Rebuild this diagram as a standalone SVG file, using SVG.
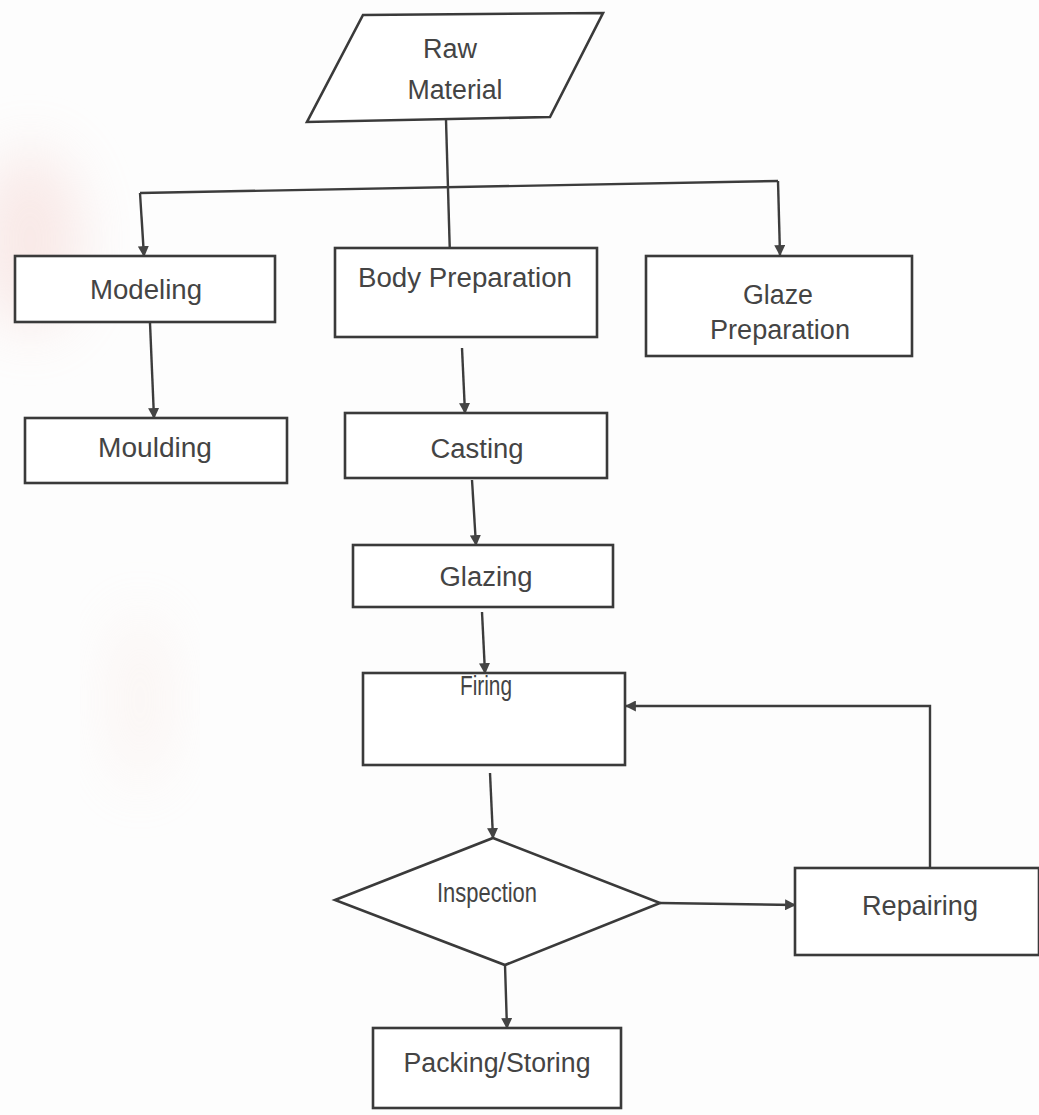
<svg xmlns="http://www.w3.org/2000/svg" width="1039" height="1115" viewBox="0 0 1039 1115">
<defs>
<marker id="arr" viewBox="0 0 10 10" refX="9" refY="5" markerWidth="11" markerHeight="11" markerUnits="userSpaceOnUse" orient="auto">
<path d="M0,0 L10,5 L0,10 z" fill="#444"/>
</marker>
<filter id="blur" x="-50%" y="-50%" width="200%" height="200%"><feGaussianBlur stdDeviation="30"/></filter>
</defs>
<style>
.shape{fill:#fff;stroke:#3a3a3a;stroke-width:2.6}
.lbl{font-family:"Liberation Sans",Arial,sans-serif;font-size:27px;fill:#444;text-anchor:middle}
.conn{fill:none;stroke:#3c3c3c;stroke-width:2.4}
</style>
<rect width="1039" height="1115" fill="#fdfdfd"/>
<ellipse cx="30" cy="240" rx="50" ry="90" fill="#f2c9c4" opacity="0.4" filter="url(#blur)"/>
<ellipse cx="140" cy="700" rx="30" ry="90" fill="#f4dcd4" opacity="0.25" filter="url(#blur)"/>

<g id="connectors">
<path class="conn" d="M446,120 L450,257" marker-end="url(#arr)"/>
<path class="conn" d="M140,193 L778,181"/>
<path class="conn" d="M140,193 L144,256" marker-end="url(#arr)"/>
<path class="conn" d="M778,181 L780,255" marker-end="url(#arr)"/>
<path class="conn" d="M150,323 L154,418" marker-end="url(#arr)"/>
<path class="conn" d="M462,348 L465,413" marker-end="url(#arr)"/>
<path class="conn" d="M472,480 L476,545" marker-end="url(#arr)"/>
<path class="conn" d="M482,612 L485,673" marker-end="url(#arr)"/>
<path class="conn" d="M490,773 L493,838" marker-end="url(#arr)"/>
<path class="conn" d="M660,903 L795,905" marker-end="url(#arr)"/>
<path class="conn" d="M930,868 L930,706 L626,706" marker-end="url(#arr)"/>
<path class="conn" d="M505,965 L507,1028" marker-end="url(#arr)"/>
</g>

<g id="raw-material">
<polygon class="shape" points="363,15 603,13 550,117 307,122"/>
<text class="lbl" x="450" y="58" textLength="54" lengthAdjust="spacingAndGlyphs">Raw</text>
<text class="lbl" x="455" y="99" textLength="95" lengthAdjust="spacingAndGlyphs">Material</text>
</g>

<g id="modeling">
<rect class="shape" x="15" y="256" width="260" height="66"/>
<text class="lbl" x="146" y="299" textLength="112" lengthAdjust="spacingAndGlyphs">Modeling</text>
</g>

<g id="moulding">
<rect class="shape" x="25" y="418" width="262" height="65"/>
<text class="lbl" x="155" y="457" textLength="114" lengthAdjust="spacingAndGlyphs">Moulding</text>
</g>

<g id="body-preparation">
<rect class="shape" x="335" y="248" width="262" height="89"/>
<text class="lbl" x="465" y="287" textLength="214" lengthAdjust="spacingAndGlyphs">Body Preparation</text>
</g>

<g id="glaze-preparation">
<rect class="shape" x="646" y="256" width="266" height="100"/>
<text class="lbl" x="778" y="304" textLength="70" lengthAdjust="spacingAndGlyphs">Glaze</text>
<text class="lbl" x="780" y="339" textLength="140" lengthAdjust="spacingAndGlyphs">Preparation</text>
</g>

<g id="casting">
<rect class="shape" x="345" y="413" width="262" height="65"/>
<text class="lbl" x="477" y="458" textLength="93" lengthAdjust="spacingAndGlyphs">Casting</text>
</g>

<g id="glazing">
<rect class="shape" x="353" y="545" width="260" height="62"/>
<text class="lbl" x="486" y="586" textLength="93" lengthAdjust="spacingAndGlyphs">Glazing</text>
</g>

<g id="firing">
<rect class="shape" x="363" y="673" width="262" height="92"/>
<text class="lbl" x="486" y="695" textLength="52" lengthAdjust="spacingAndGlyphs">Firing</text>
</g>

<g id="inspection">
<polygon class="shape" points="493,838 660,903 505,965 335,900"/>
<text class="lbl" x="487" y="902" textLength="100" lengthAdjust="spacingAndGlyphs">Inspection</text>
</g>

<g id="repairing">
<rect class="shape" x="795" y="868" width="244" height="87"/>
<text class="lbl" x="920" y="915" textLength="116" lengthAdjust="spacingAndGlyphs">Repairing</text>
</g>

<g id="packing-storing">
<rect class="shape" x="373" y="1028" width="248" height="80"/>
<text class="lbl" x="497" y="1072" textLength="187" lengthAdjust="spacingAndGlyphs">Packing/Storing</text>
</g>
</svg>
